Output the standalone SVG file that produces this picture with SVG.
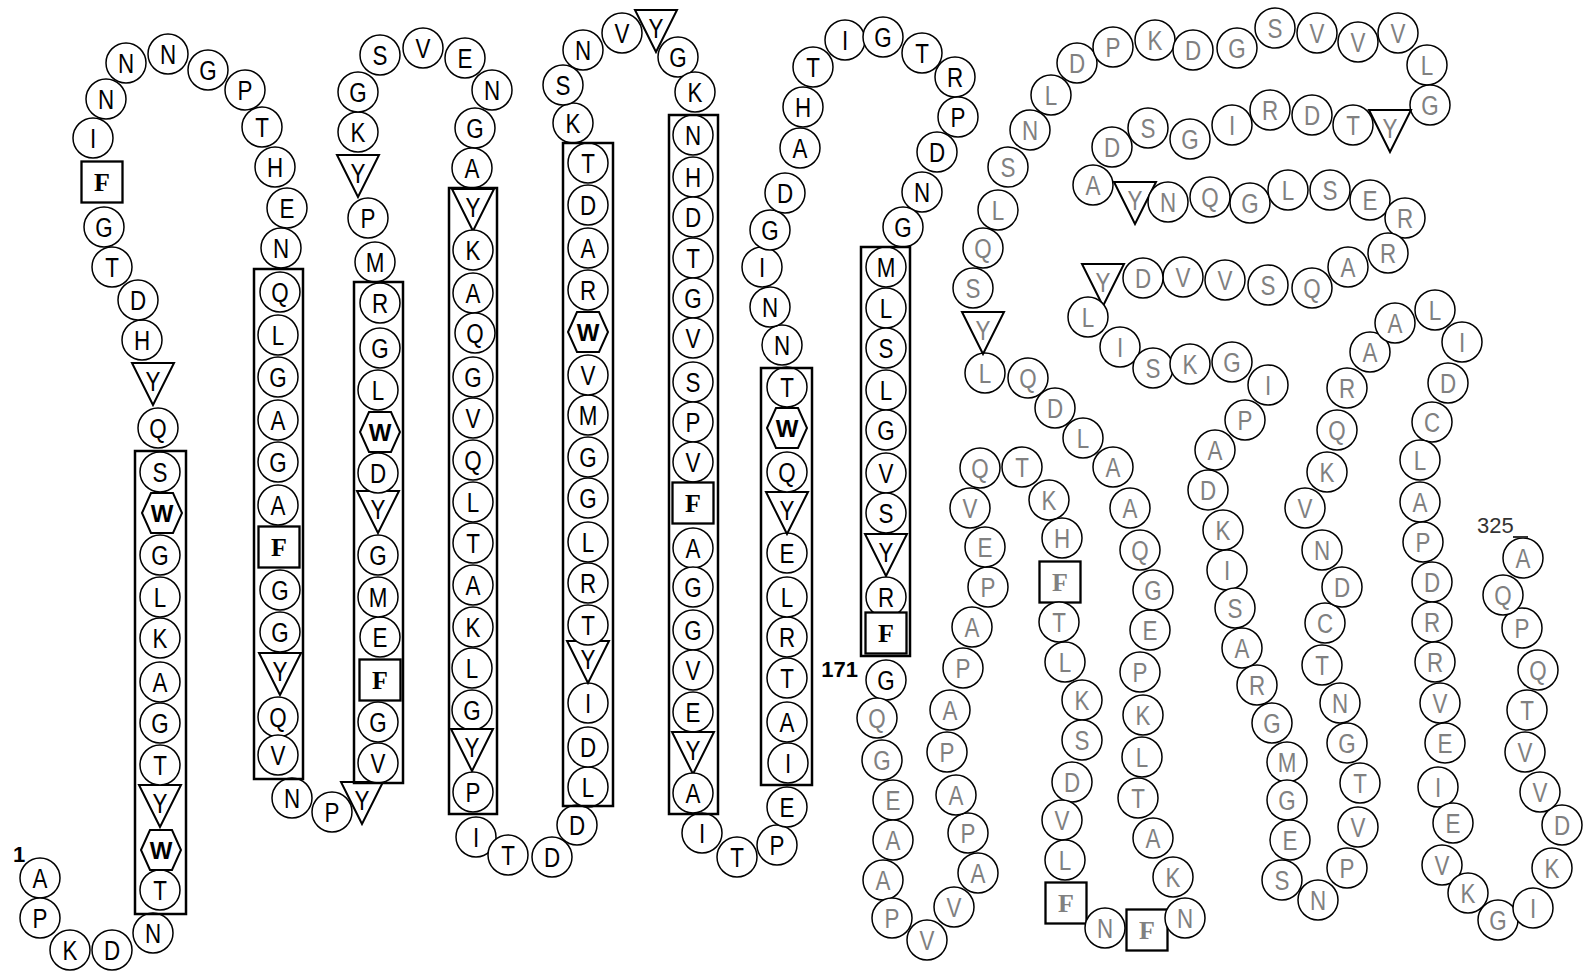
<svg xmlns="http://www.w3.org/2000/svg" xmlns:xlink="http://www.w3.org/1999/xlink" width="1585" height="972" viewBox="0 0 1585 972">
<defs>
<style>
text{font-family:"Liberation Sans",Arial,sans-serif;font-size:28px;text-anchor:middle;fill:#000}
.g text{fill:#808080}
text.f{font-family:"Liberation Serif","Times New Roman",serif;font-weight:bold;font-size:26px}
text.w{font-weight:bold;font-size:24px}
text.n{font-size:22px;font-weight:bold}
.tm{fill:none;stroke:#000;stroke-width:2.5}
</style>
<circle id="c" r="20" fill="#fff" stroke="#000" stroke-width="1.5"/>
<rect id="s" x="-20.5" y="-20.5" width="41" height="41" fill="#fff" stroke="#000" stroke-width="2.3"/>
<polygon id="h" points="-20,0 -11,-20 11,-20 20,0 11,20 -11,20" fill="#fff" stroke="#000" stroke-width="2"/>
<polygon id="t" points="-21,-21 21,-21 0,21" fill="#fff" stroke="#000" stroke-width="2"/>
</defs>
<rect width="1585" height="972" fill="#fff"/>
<g id="connectors"></g>
<g id="nodes">
<g id="r1" transform="translate(40,878)"><use href="#c"/><text y="10" transform="scale(.8 1)">A</text></g>
<g id="r2" transform="translate(40,918)"><use href="#c"/><text y="10" transform="scale(.8 1)">P</text></g>
<g id="r3" transform="translate(70,950)"><use href="#c"/><text y="10" transform="scale(.8 1)">K</text></g>
<g id="r4" transform="translate(112,950)"><use href="#c"/><text y="10" transform="scale(.8 1)">D</text></g>
<g id="r5" transform="translate(153,933)"><use href="#c"/><text y="10" transform="scale(.8 1)">N</text></g>
<g id="r6" transform="translate(160,890)"><use href="#c"/><text y="10" transform="scale(.8 1)">T</text></g>
<g id="r7" transform="translate(161,850)"><use href="#h"/><text class="w" y="9">W</text></g>
<g id="r8" transform="translate(160,806)"><use href="#t"/><text y="7" transform="scale(.8 1)">Y</text></g>
<g id="r9" transform="translate(160,765)"><use href="#c"/><text y="10" transform="scale(.8 1)">T</text></g>
<g id="r10" transform="translate(160,723)"><use href="#c"/><text y="10" transform="scale(.8 1)">G</text></g>
<g id="r11" transform="translate(160,682)"><use href="#c"/><text y="10" transform="scale(.8 1)">A</text></g>
<g id="r12" transform="translate(160,638)"><use href="#c"/><text y="10" transform="scale(.8 1)">K</text></g>
<g id="r13" transform="translate(160,597)"><use href="#c"/><text y="10" transform="scale(.8 1)">L</text></g>
<g id="r14" transform="translate(160,555)"><use href="#c"/><text y="10" transform="scale(.8 1)">G</text></g>
<g id="r15" transform="translate(162,513)"><use href="#h"/><text class="w" y="9">W</text></g>
<g id="r16" transform="translate(160,472)"><use href="#c"/><text y="10" transform="scale(.8 1)">S</text></g>
<g id="r17" transform="translate(158,428)"><use href="#c"/><text y="10" transform="scale(.8 1)">Q</text></g>
<g id="r18" transform="translate(153,384)"><use href="#t"/><text y="7" transform="scale(.8 1)">Y</text></g>
<g id="r19" transform="translate(142,340)"><use href="#c"/><text y="10" transform="scale(.8 1)">H</text></g>
<g id="r20" transform="translate(138,300)"><use href="#c"/><text y="10" transform="scale(.8 1)">D</text></g>
<g id="r21" transform="translate(112,267)"><use href="#c"/><text y="10" transform="scale(.8 1)">T</text></g>
<g id="r22" transform="translate(104,227)"><use href="#c"/><text y="10" transform="scale(.8 1)">G</text></g>
<g id="r23" transform="translate(102,182)"><use href="#s"/><text class="f" y="9">F</text></g>
<g id="r24" transform="translate(93,138)"><use href="#c"/><text y="10" transform="scale(.8 1)">I</text></g>
<g id="r25" transform="translate(106,99)"><use href="#c"/><text y="10" transform="scale(.8 1)">N</text></g>
<g id="r26" transform="translate(126,63)"><use href="#c"/><text y="10" transform="scale(.8 1)">N</text></g>
<g id="r27" transform="translate(168,54)"><use href="#c"/><text y="10" transform="scale(.8 1)">N</text></g>
<g id="r28" transform="translate(208,70)"><use href="#c"/><text y="10" transform="scale(.8 1)">G</text></g>
<g id="r29" transform="translate(245,90)"><use href="#c"/><text y="10" transform="scale(.8 1)">P</text></g>
<g id="r30" transform="translate(262,127)"><use href="#c"/><text y="10" transform="scale(.8 1)">T</text></g>
<g id="r31" transform="translate(275,167)"><use href="#c"/><text y="10" transform="scale(.8 1)">H</text></g>
<g id="r32" transform="translate(287,208)"><use href="#c"/><text y="10" transform="scale(.8 1)">E</text></g>
<g id="r33" transform="translate(281,248)"><use href="#c"/><text y="10" transform="scale(.8 1)">N</text></g>
<g id="r34" transform="translate(280,292)"><use href="#c"/><text y="10" transform="scale(.8 1)">Q</text></g>
<g id="r35" transform="translate(278,335)"><use href="#c"/><text y="10" transform="scale(.8 1)">L</text></g>
<g id="r36" transform="translate(278,377)"><use href="#c"/><text y="10" transform="scale(.8 1)">G</text></g>
<g id="r37" transform="translate(278,420)"><use href="#c"/><text y="10" transform="scale(.8 1)">A</text></g>
<g id="r38" transform="translate(278,462)"><use href="#c"/><text y="10" transform="scale(.8 1)">G</text></g>
<g id="r39" transform="translate(278,505)"><use href="#c"/><text y="10" transform="scale(.8 1)">A</text></g>
<g id="r40" transform="translate(279,547)"><use href="#s"/><text class="f" y="9">F</text></g>
<g id="r41" transform="translate(280,590)"><use href="#c"/><text y="10" transform="scale(.8 1)">G</text></g>
<g id="r42" transform="translate(280,632)"><use href="#c"/><text y="10" transform="scale(.8 1)">G</text></g>
<g id="r43" transform="translate(280,674)"><use href="#t"/><text y="7" transform="scale(.8 1)">Y</text></g>
<g id="r44" transform="translate(278,717)"><use href="#c"/><text y="10" transform="scale(.8 1)">Q</text></g>
<g id="r45" transform="translate(278,755)"><use href="#c"/><text y="10" transform="scale(.8 1)">V</text></g>
<g id="r46" transform="translate(292,798)"><use href="#c"/><text y="10" transform="scale(.8 1)">N</text></g>
<g id="r47" transform="translate(332,812)"><use href="#c"/><text y="10" transform="scale(.8 1)">P</text></g>
<g id="r48" transform="translate(362,803)"><use href="#t"/><text y="7" transform="scale(.8 1)">Y</text></g>
<g id="r49" transform="translate(378,763)"><use href="#c"/><text y="10" transform="scale(.8 1)">V</text></g>
<g id="r50" transform="translate(378,722)"><use href="#c"/><text y="10" transform="scale(.8 1)">G</text></g>
<g id="r51" transform="translate(380,680)"><use href="#s"/><text class="f" y="9">F</text></g>
<g id="r52" transform="translate(380,637)"><use href="#c"/><text y="10" transform="scale(.8 1)">E</text></g>
<g id="r53" transform="translate(378,597)"><use href="#c"/><text y="10" transform="scale(.8 1)">M</text></g>
<g id="r54" transform="translate(378,555)"><use href="#c"/><text y="10" transform="scale(.8 1)">G</text></g>
<g id="r55" transform="translate(378,512)"><use href="#t"/><text y="7" transform="scale(.8 1)">Y</text></g>
<g id="r56" transform="translate(378,473)"><use href="#c"/><text y="10" transform="scale(.8 1)">D</text></g>
<g id="r57" transform="translate(380,432)"><use href="#h"/><text class="w" y="9">W</text></g>
<g id="r58" transform="translate(378,390)"><use href="#c"/><text y="10" transform="scale(.8 1)">L</text></g>
<g id="r59" transform="translate(380,348)"><use href="#c"/><text y="10" transform="scale(.8 1)">G</text></g>
<g id="r60" transform="translate(380,303)"><use href="#c"/><text y="10" transform="scale(.8 1)">R</text></g>
<g id="r61" transform="translate(375,262)"><use href="#c"/><text y="10" transform="scale(.8 1)">M</text></g>
<g id="r62" transform="translate(368,218)"><use href="#c"/><text y="10" transform="scale(.8 1)">P</text></g>
<g id="r63" transform="translate(358,176)"><use href="#t"/><text y="7" transform="scale(.8 1)">Y</text></g>
<g id="r64" transform="translate(358,132)"><use href="#c"/><text y="10" transform="scale(.8 1)">K</text></g>
<g id="r65" transform="translate(358,92)"><use href="#c"/><text y="10" transform="scale(.8 1)">G</text></g>
<g id="r66" transform="translate(380,55)"><use href="#c"/><text y="10" transform="scale(.8 1)">S</text></g>
<g id="r67" transform="translate(423,48)"><use href="#c"/><text y="10" transform="scale(.8 1)">V</text></g>
<g id="r68" transform="translate(465,58)"><use href="#c"/><text y="10" transform="scale(.8 1)">E</text></g>
<g id="r69" transform="translate(492,90)"><use href="#c"/><text y="10" transform="scale(.8 1)">N</text></g>
<g id="r70" transform="translate(475,128)"><use href="#c"/><text y="10" transform="scale(.8 1)">G</text></g>
<g id="r71" transform="translate(472,168)"><use href="#c"/><text y="10" transform="scale(.8 1)">A</text></g>
<g id="r72" transform="translate(473,210)"><use href="#t"/><text y="7" transform="scale(.8 1)">Y</text></g>
<g id="r73" transform="translate(473,250)"><use href="#c"/><text y="10" transform="scale(.8 1)">K</text></g>
<g id="r74" transform="translate(473,293)"><use href="#c"/><text y="10" transform="scale(.8 1)">A</text></g>
<g id="r75" transform="translate(475,333)"><use href="#c"/><text y="10" transform="scale(.8 1)">Q</text></g>
<g id="r76" transform="translate(473,377)"><use href="#c"/><text y="10" transform="scale(.8 1)">G</text></g>
<g id="r77" transform="translate(473,418)"><use href="#c"/><text y="10" transform="scale(.8 1)">V</text></g>
<g id="r78" transform="translate(473,460)"><use href="#c"/><text y="10" transform="scale(.8 1)">Q</text></g>
<g id="r79" transform="translate(473,502)"><use href="#c"/><text y="10" transform="scale(.8 1)">L</text></g>
<g id="r80" transform="translate(473,543)"><use href="#c"/><text y="10" transform="scale(.8 1)">T</text></g>
<g id="r81" transform="translate(473,585)"><use href="#c"/><text y="10" transform="scale(.8 1)">A</text></g>
<g id="r82" transform="translate(473,627)"><use href="#c"/><text y="10" transform="scale(.8 1)">K</text></g>
<g id="r83" transform="translate(472,668)"><use href="#c"/><text y="10" transform="scale(.8 1)">L</text></g>
<g id="r84" transform="translate(472,710)"><use href="#c"/><text y="10" transform="scale(.8 1)">G</text></g>
<g id="r85" transform="translate(472,750)"><use href="#t"/><text y="7" transform="scale(.8 1)">Y</text></g>
<g id="r86" transform="translate(473,792)"><use href="#c"/><text y="10" transform="scale(.8 1)">P</text></g>
<g id="r87" transform="translate(476,837)"><use href="#c"/><text y="10" transform="scale(.8 1)">I</text></g>
<g id="r88" transform="translate(508,855)"><use href="#c"/><text y="10" transform="scale(.8 1)">T</text></g>
<g id="r89" transform="translate(552,857)"><use href="#c"/><text y="10" transform="scale(.8 1)">D</text></g>
<g id="r90" transform="translate(577,825)"><use href="#c"/><text y="10" transform="scale(.8 1)">D</text></g>
<g id="r91" transform="translate(588,787)"><use href="#c"/><text y="10" transform="scale(.8 1)">L</text></g>
<g id="r92" transform="translate(588,747)"><use href="#c"/><text y="10" transform="scale(.8 1)">D</text></g>
<g id="r93" transform="translate(588,703)"><use href="#c"/><text y="10" transform="scale(.8 1)">I</text></g>
<g id="r94" transform="translate(588,662)"><use href="#t"/><text y="7" transform="scale(.8 1)">Y</text></g>
<g id="r95" transform="translate(588,625)"><use href="#c"/><text y="10" transform="scale(.8 1)">T</text></g>
<g id="r96" transform="translate(588,583)"><use href="#c"/><text y="10" transform="scale(.8 1)">R</text></g>
<g id="r97" transform="translate(588,542)"><use href="#c"/><text y="10" transform="scale(.8 1)">L</text></g>
<g id="r98" transform="translate(588,498)"><use href="#c"/><text y="10" transform="scale(.8 1)">G</text></g>
<g id="r99" transform="translate(588,457)"><use href="#c"/><text y="10" transform="scale(.8 1)">G</text></g>
<g id="r100" transform="translate(588,415)"><use href="#c"/><text y="10" transform="scale(.8 1)">M</text></g>
<g id="r101" transform="translate(588,375)"><use href="#c"/><text y="10" transform="scale(.8 1)">V</text></g>
<g id="r102" transform="translate(588,332)"><use href="#h"/><text class="w" y="9">W</text></g>
<g id="r103" transform="translate(588,290)"><use href="#c"/><text y="10" transform="scale(.8 1)">R</text></g>
<g id="r104" transform="translate(588,248)"><use href="#c"/><text y="10" transform="scale(.8 1)">A</text></g>
<g id="r105" transform="translate(588,205)"><use href="#c"/><text y="10" transform="scale(.8 1)">D</text></g>
<g id="r106" transform="translate(588,163)"><use href="#c"/><text y="10" transform="scale(.8 1)">T</text></g>
<g id="r107" transform="translate(573,123)"><use href="#c"/><text y="10" transform="scale(.8 1)">K</text></g>
<g id="r108" transform="translate(563,85)"><use href="#c"/><text y="10" transform="scale(.8 1)">S</text></g>
<g id="r109" transform="translate(583,50)"><use href="#c"/><text y="10" transform="scale(.8 1)">N</text></g>
<g id="r110" transform="translate(622,33)"><use href="#c"/><text y="10" transform="scale(.8 1)">V</text></g>
<g id="r111" transform="translate(656,31)"><use href="#t"/><text y="7" transform="scale(.8 1)">Y</text></g>
<g id="r112" transform="translate(678,57)"><use href="#c"/><text y="10" transform="scale(.8 1)">G</text></g>
<g id="r113" transform="translate(695,92)"><use href="#c"/><text y="10" transform="scale(.8 1)">K</text></g>
<g id="r114" transform="translate(693,135)"><use href="#c"/><text y="10" transform="scale(.8 1)">N</text></g>
<g id="r115" transform="translate(693,177)"><use href="#c"/><text y="10" transform="scale(.8 1)">H</text></g>
<g id="r116" transform="translate(693,217)"><use href="#c"/><text y="10" transform="scale(.8 1)">D</text></g>
<g id="r117" transform="translate(693,258)"><use href="#c"/><text y="10" transform="scale(.8 1)">T</text></g>
<g id="r118" transform="translate(693,298)"><use href="#c"/><text y="10" transform="scale(.8 1)">G</text></g>
<g id="r119" transform="translate(693,338)"><use href="#c"/><text y="10" transform="scale(.8 1)">V</text></g>
<g id="r120" transform="translate(693,382)"><use href="#c"/><text y="10" transform="scale(.8 1)">S</text></g>
<g id="r121" transform="translate(693,422)"><use href="#c"/><text y="10" transform="scale(.8 1)">P</text></g>
<g id="r122" transform="translate(693,462)"><use href="#c"/><text y="10" transform="scale(.8 1)">V</text></g>
<g id="r123" transform="translate(693,503)"><use href="#s"/><text class="f" y="9">F</text></g>
<g id="r124" transform="translate(693,548)"><use href="#c"/><text y="10" transform="scale(.8 1)">A</text></g>
<g id="r125" transform="translate(693,587)"><use href="#c"/><text y="10" transform="scale(.8 1)">G</text></g>
<g id="r126" transform="translate(693,630)"><use href="#c"/><text y="10" transform="scale(.8 1)">G</text></g>
<g id="r127" transform="translate(693,670)"><use href="#c"/><text y="10" transform="scale(.8 1)">V</text></g>
<g id="r128" transform="translate(693,712)"><use href="#c"/><text y="10" transform="scale(.8 1)">E</text></g>
<g id="r129" transform="translate(693,753)"><use href="#t"/><text y="7" transform="scale(.8 1)">Y</text></g>
<g id="r130" transform="translate(693,793)"><use href="#c"/><text y="10" transform="scale(.8 1)">A</text></g>
<g id="r131" transform="translate(702,833)"><use href="#c"/><text y="10" transform="scale(.8 1)">I</text></g>
<g id="r132" transform="translate(737,857)"><use href="#c"/><text y="10" transform="scale(.8 1)">T</text></g>
<g id="r133" transform="translate(777,845)"><use href="#c"/><text y="10" transform="scale(.8 1)">P</text></g>
<g id="r134" transform="translate(787,807)"><use href="#c"/><text y="10" transform="scale(.8 1)">E</text></g>
<g id="r135" transform="translate(788,763)"><use href="#c"/><text y="10" transform="scale(.8 1)">I</text></g>
<g id="r136" transform="translate(787,722)"><use href="#c"/><text y="10" transform="scale(.8 1)">A</text></g>
<g id="r137" transform="translate(787,678)"><use href="#c"/><text y="10" transform="scale(.8 1)">T</text></g>
<g id="r138" transform="translate(787,637)"><use href="#c"/><text y="10" transform="scale(.8 1)">R</text></g>
<g id="r139" transform="translate(787,597)"><use href="#c"/><text y="10" transform="scale(.8 1)">L</text></g>
<g id="r140" transform="translate(787,553)"><use href="#c"/><text y="10" transform="scale(.8 1)">E</text></g>
<g id="r141" transform="translate(787,513)"><use href="#t"/><text y="7" transform="scale(.8 1)">Y</text></g>
<g id="r142" transform="translate(787,472)"><use href="#c"/><text y="10" transform="scale(.8 1)">Q</text></g>
<g id="r143" transform="translate(787,428)"><use href="#h"/><text class="w" y="9">W</text></g>
<g id="r144" transform="translate(787,387)"><use href="#c"/><text y="10" transform="scale(.8 1)">T</text></g>
<g id="r145" transform="translate(782,345)"><use href="#c"/><text y="10" transform="scale(.8 1)">N</text></g>
<g id="r146" transform="translate(770,307)"><use href="#c"/><text y="10" transform="scale(.8 1)">N</text></g>
<g id="r147" transform="translate(762,267)"><use href="#c"/><text y="10" transform="scale(.8 1)">I</text></g>
<g id="r148" transform="translate(770,230)"><use href="#c"/><text y="10" transform="scale(.8 1)">G</text></g>
<g id="r149" transform="translate(785,193)"><use href="#c"/><text y="10" transform="scale(.8 1)">D</text></g>
<g id="r150" transform="translate(800,148)"><use href="#c"/><text y="10" transform="scale(.8 1)">A</text></g>
<g id="r151" transform="translate(803,107)"><use href="#c"/><text y="10" transform="scale(.8 1)">H</text></g>
<g id="r152" transform="translate(813,67)"><use href="#c"/><text y="10" transform="scale(.8 1)">T</text></g>
<g id="r153" transform="translate(845,40)"><use href="#c"/><text y="10" transform="scale(.8 1)">I</text></g>
<g id="r154" transform="translate(883,37)"><use href="#c"/><text y="10" transform="scale(.8 1)">G</text></g>
<g id="r155" transform="translate(922,53)"><use href="#c"/><text y="10" transform="scale(.8 1)">T</text></g>
<g id="r156" transform="translate(955,77)"><use href="#c"/><text y="10" transform="scale(.8 1)">R</text></g>
<g id="r157" transform="translate(958,117)"><use href="#c"/><text y="10" transform="scale(.8 1)">P</text></g>
<g id="r158" transform="translate(937,152)"><use href="#c"/><text y="10" transform="scale(.8 1)">D</text></g>
<g id="r159" transform="translate(922,192)"><use href="#c"/><text y="10" transform="scale(.8 1)">N</text></g>
<g id="r160" transform="translate(903,227)"><use href="#c"/><text y="10" transform="scale(.8 1)">G</text></g>
<g id="r161" transform="translate(886,267)"><use href="#c"/><text y="10" transform="scale(.8 1)">M</text></g>
<g id="r162" transform="translate(886,308)"><use href="#c"/><text y="10" transform="scale(.8 1)">L</text></g>
<g id="r163" transform="translate(886,348)"><use href="#c"/><text y="10" transform="scale(.8 1)">S</text></g>
<g id="r164" transform="translate(886,390)"><use href="#c"/><text y="10" transform="scale(.8 1)">L</text></g>
<g id="r165" transform="translate(886,430)"><use href="#c"/><text y="10" transform="scale(.8 1)">G</text></g>
<g id="r166" transform="translate(886,473)"><use href="#c"/><text y="10" transform="scale(.8 1)">V</text></g>
<g id="r167" transform="translate(886,513)"><use href="#c"/><text y="10" transform="scale(.8 1)">S</text></g>
<g id="r168" transform="translate(886,555)"><use href="#t"/><text y="7" transform="scale(.8 1)">Y</text></g>
<g id="r169" transform="translate(886,597)"><use href="#c"/><text y="10" transform="scale(.8 1)">R</text></g>
<g id="r170" transform="translate(886,633)"><use href="#s"/><text class="f" y="9">F</text></g>
<g id="r171" transform="translate(886,680)"><use href="#c"/><text y="10" transform="scale(.8 1)">G</text></g>
<g class="g">
<g id="r172" transform="translate(877,718)"><use href="#c"/><text y="10" transform="scale(.8 1)">Q</text></g>
<g id="r173" transform="translate(882,760)"><use href="#c"/><text y="10" transform="scale(.8 1)">G</text></g>
<g id="r174" transform="translate(893,800)"><use href="#c"/><text y="10" transform="scale(.8 1)">E</text></g>
<g id="r175" transform="translate(893,840)"><use href="#c"/><text y="10" transform="scale(.8 1)">A</text></g>
<g id="r176" transform="translate(883,880)"><use href="#c"/><text y="10" transform="scale(.8 1)">A</text></g>
<g id="r177" transform="translate(892,918)"><use href="#c"/><text y="10" transform="scale(.8 1)">P</text></g>
<g id="r178" transform="translate(927,940)"><use href="#c"/><text y="10" transform="scale(.8 1)">V</text></g>
<g id="r179" transform="translate(954,907)"><use href="#c"/><text y="10" transform="scale(.8 1)">V</text></g>
<g id="r180" transform="translate(978,873)"><use href="#c"/><text y="10" transform="scale(.8 1)">A</text></g>
<g id="r181" transform="translate(968,833)"><use href="#c"/><text y="10" transform="scale(.8 1)">P</text></g>
<g id="r182" transform="translate(956,795)"><use href="#c"/><text y="10" transform="scale(.8 1)">A</text></g>
<g id="r183" transform="translate(947,752)"><use href="#c"/><text y="10" transform="scale(.8 1)">P</text></g>
<g id="r184" transform="translate(950,710)"><use href="#c"/><text y="10" transform="scale(.8 1)">A</text></g>
<g id="r185" transform="translate(963,668)"><use href="#c"/><text y="10" transform="scale(.8 1)">P</text></g>
<g id="r186" transform="translate(972,627)"><use href="#c"/><text y="10" transform="scale(.8 1)">A</text></g>
<g id="r187" transform="translate(988,587)"><use href="#c"/><text y="10" transform="scale(.8 1)">P</text></g>
<g id="r188" transform="translate(985,547)"><use href="#c"/><text y="10" transform="scale(.8 1)">E</text></g>
<g id="r189" transform="translate(970,508)"><use href="#c"/><text y="10" transform="scale(.8 1)">V</text></g>
<g id="r190" transform="translate(980,468)"><use href="#c"/><text y="10" transform="scale(.8 1)">Q</text></g>
<g id="r191" transform="translate(1022,467)"><use href="#c"/><text y="10" transform="scale(.8 1)">T</text></g>
<g id="r192" transform="translate(1049,500)"><use href="#c"/><text y="10" transform="scale(.8 1)">K</text></g>
<g id="r193" transform="translate(1062,538)"><use href="#c"/><text y="10" transform="scale(.8 1)">H</text></g>
<g id="r194" transform="translate(1060,582)"><use href="#s"/><text class="f" y="9">F</text></g>
<g id="r195" transform="translate(1059,622)"><use href="#c"/><text y="10" transform="scale(.8 1)">T</text></g>
<g id="r196" transform="translate(1065,662)"><use href="#c"/><text y="10" transform="scale(.8 1)">L</text></g>
<g id="r197" transform="translate(1082,700)"><use href="#c"/><text y="10" transform="scale(.8 1)">K</text></g>
<g id="r198" transform="translate(1082,740)"><use href="#c"/><text y="10" transform="scale(.8 1)">S</text></g>
<g id="r199" transform="translate(1072,782)"><use href="#c"/><text y="10" transform="scale(.8 1)">D</text></g>
<g id="r200" transform="translate(1062,820)"><use href="#c"/><text y="10" transform="scale(.8 1)">V</text></g>
<g id="r201" transform="translate(1065,860)"><use href="#c"/><text y="10" transform="scale(.8 1)">L</text></g>
<g id="r202" transform="translate(1066,903)"><use href="#s"/><text class="f" y="9">F</text></g>
<g id="r203" transform="translate(1105,928)"><use href="#c"/><text y="10" transform="scale(.8 1)">N</text></g>
<g id="r204" transform="translate(1147,930)"><use href="#s"/><text class="f" y="9">F</text></g>
<g id="r205" transform="translate(1185,918)"><use href="#c"/><text y="10" transform="scale(.8 1)">N</text></g>
<g id="r206" transform="translate(1173,877)"><use href="#c"/><text y="10" transform="scale(.8 1)">K</text></g>
<g id="r207" transform="translate(1153,838)"><use href="#c"/><text y="10" transform="scale(.8 1)">A</text></g>
<g id="r208" transform="translate(1138,798)"><use href="#c"/><text y="10" transform="scale(.8 1)">T</text></g>
<g id="r209" transform="translate(1142,757)"><use href="#c"/><text y="10" transform="scale(.8 1)">L</text></g>
<g id="r210" transform="translate(1143,715)"><use href="#c"/><text y="10" transform="scale(.8 1)">K</text></g>
<g id="r211" transform="translate(1140,672)"><use href="#c"/><text y="10" transform="scale(.8 1)">P</text></g>
<g id="r212" transform="translate(1150,630)"><use href="#c"/><text y="10" transform="scale(.8 1)">E</text></g>
<g id="r213" transform="translate(1153,590)"><use href="#c"/><text y="10" transform="scale(.8 1)">G</text></g>
<g id="r214" transform="translate(1140,550)"><use href="#c"/><text y="10" transform="scale(.8 1)">Q</text></g>
<g id="r215" transform="translate(1130,508)"><use href="#c"/><text y="10" transform="scale(.8 1)">A</text></g>
<g id="r216" transform="translate(1113,467)"><use href="#c"/><text y="10" transform="scale(.8 1)">A</text></g>
<g id="r217" transform="translate(1083,438)"><use href="#c"/><text y="10" transform="scale(.8 1)">L</text></g>
<g id="r218" transform="translate(1055,408)"><use href="#c"/><text y="10" transform="scale(.8 1)">D</text></g>
<g id="r219" transform="translate(1028,378)"><use href="#c"/><text y="10" transform="scale(.8 1)">Q</text></g>
<g id="r220" transform="translate(985,373)"><use href="#c"/><text y="10" transform="scale(.8 1)">L</text></g>
<g id="r221" transform="translate(983,333)"><use href="#t"/><text y="7" transform="scale(.8 1)">Y</text></g>
<g id="r222" transform="translate(973,288)"><use href="#c"/><text y="10" transform="scale(.8 1)">S</text></g>
<g id="r223" transform="translate(983,248)"><use href="#c"/><text y="10" transform="scale(.8 1)">Q</text></g>
<g id="r224" transform="translate(998,210)"><use href="#c"/><text y="10" transform="scale(.8 1)">L</text></g>
<g id="r225" transform="translate(1008,167)"><use href="#c"/><text y="10" transform="scale(.8 1)">S</text></g>
<g id="r226" transform="translate(1030,130)"><use href="#c"/><text y="10" transform="scale(.8 1)">N</text></g>
<g id="r227" transform="translate(1051,95)"><use href="#c"/><text y="10" transform="scale(.8 1)">L</text></g>
<g id="r228" transform="translate(1077,63)"><use href="#c"/><text y="10" transform="scale(.8 1)">D</text></g>
<g id="r229" transform="translate(1113,47)"><use href="#c"/><text y="10" transform="scale(.8 1)">P</text></g>
<g id="r230" transform="translate(1155,40)"><use href="#c"/><text y="10" transform="scale(.8 1)">K</text></g>
<g id="r231" transform="translate(1193,50)"><use href="#c"/><text y="10" transform="scale(.8 1)">D</text></g>
<g id="r232" transform="translate(1237,48)"><use href="#c"/><text y="10" transform="scale(.8 1)">G</text></g>
<g id="r233" transform="translate(1275,28)"><use href="#c"/><text y="10" transform="scale(.8 1)">S</text></g>
<g id="r234" transform="translate(1317,33)"><use href="#c"/><text y="10" transform="scale(.8 1)">V</text></g>
<g id="r235" transform="translate(1358,42)"><use href="#c"/><text y="10" transform="scale(.8 1)">V</text></g>
<g id="r236" transform="translate(1398,33)"><use href="#c"/><text y="10" transform="scale(.8 1)">V</text></g>
<g id="r237" transform="translate(1427,65)"><use href="#c"/><text y="10" transform="scale(.8 1)">L</text></g>
<g id="r238" transform="translate(1430,105)"><use href="#c"/><text y="10" transform="scale(.8 1)">G</text></g>
<g id="r239" transform="translate(1390,131)"><use href="#t"/><text y="7" transform="scale(.8 1)">Y</text></g>
<g id="r240" transform="translate(1353,125)"><use href="#c"/><text y="10" transform="scale(.8 1)">T</text></g>
<g id="r241" transform="translate(1312,115)"><use href="#c"/><text y="10" transform="scale(.8 1)">D</text></g>
<g id="r242" transform="translate(1270,110)"><use href="#c"/><text y="10" transform="scale(.8 1)">R</text></g>
<g id="r243" transform="translate(1232,125)"><use href="#c"/><text y="10" transform="scale(.8 1)">I</text></g>
<g id="r244" transform="translate(1190,139)"><use href="#c"/><text y="10" transform="scale(.8 1)">G</text></g>
<g id="r245" transform="translate(1148,128)"><use href="#c"/><text y="10" transform="scale(.8 1)">S</text></g>
<g id="r246" transform="translate(1112,147)"><use href="#c"/><text y="10" transform="scale(.8 1)">D</text></g>
<g id="r247" transform="translate(1093,185)"><use href="#c"/><text y="10" transform="scale(.8 1)">A</text></g>
<g id="r248" transform="translate(1135,203)"><use href="#t"/><text y="7" transform="scale(.8 1)">Y</text></g>
<g id="r249" transform="translate(1168,202)"><use href="#c"/><text y="10" transform="scale(.8 1)">N</text></g>
<g id="r250" transform="translate(1210,197)"><use href="#c"/><text y="10" transform="scale(.8 1)">Q</text></g>
<g id="r251" transform="translate(1250,203)"><use href="#c"/><text y="10" transform="scale(.8 1)">G</text></g>
<g id="r252" transform="translate(1288,190)"><use href="#c"/><text y="10" transform="scale(.8 1)">L</text></g>
<g id="r253" transform="translate(1330,190)"><use href="#c"/><text y="10" transform="scale(.8 1)">S</text></g>
<g id="r254" transform="translate(1370,200)"><use href="#c"/><text y="10" transform="scale(.8 1)">E</text></g>
<g id="r255" transform="translate(1405,218)"><use href="#c"/><text y="10" transform="scale(.8 1)">R</text></g>
<g id="r256" transform="translate(1388,253)"><use href="#c"/><text y="10" transform="scale(.8 1)">R</text></g>
<g id="r257" transform="translate(1348,267)"><use href="#c"/><text y="10" transform="scale(.8 1)">A</text></g>
<g id="r258" transform="translate(1312,288)"><use href="#c"/><text y="10" transform="scale(.8 1)">Q</text></g>
<g id="r259" transform="translate(1268,285)"><use href="#c"/><text y="10" transform="scale(.8 1)">S</text></g>
<g id="r260" transform="translate(1225,280)"><use href="#c"/><text y="10" transform="scale(.8 1)">V</text></g>
<g id="r261" transform="translate(1183,277)"><use href="#c"/><text y="10" transform="scale(.8 1)">V</text></g>
<g id="r262" transform="translate(1143,278)"><use href="#c"/><text y="10" transform="scale(.8 1)">D</text></g>
<g id="r263" transform="translate(1103,285)"><use href="#t"/><text y="7" transform="scale(.8 1)">Y</text></g>
<g id="r264" transform="translate(1088,317)"><use href="#c"/><text y="10" transform="scale(.8 1)">L</text></g>
<g id="r265" transform="translate(1120,347)"><use href="#c"/><text y="10" transform="scale(.8 1)">I</text></g>
<g id="r266" transform="translate(1153,368)"><use href="#c"/><text y="10" transform="scale(.8 1)">S</text></g>
<g id="r267" transform="translate(1190,364)"><use href="#c"/><text y="10" transform="scale(.8 1)">K</text></g>
<g id="r268" transform="translate(1232,362)"><use href="#c"/><text y="10" transform="scale(.8 1)">G</text></g>
<g id="r269" transform="translate(1268,385)"><use href="#c"/><text y="10" transform="scale(.8 1)">I</text></g>
<g id="r270" transform="translate(1245,420)"><use href="#c"/><text y="10" transform="scale(.8 1)">P</text></g>
<g id="r271" transform="translate(1215,450)"><use href="#c"/><text y="10" transform="scale(.8 1)">A</text></g>
<g id="r272" transform="translate(1208,490)"><use href="#c"/><text y="10" transform="scale(.8 1)">D</text></g>
<g id="r273" transform="translate(1223,530)"><use href="#c"/><text y="10" transform="scale(.8 1)">K</text></g>
<g id="r274" transform="translate(1227,570)"><use href="#c"/><text y="10" transform="scale(.8 1)">I</text></g>
<g id="r275" transform="translate(1235,608)"><use href="#c"/><text y="10" transform="scale(.8 1)">S</text></g>
<g id="r276" transform="translate(1242,648)"><use href="#c"/><text y="10" transform="scale(.8 1)">A</text></g>
<g id="r277" transform="translate(1257,685)"><use href="#c"/><text y="10" transform="scale(.8 1)">R</text></g>
<g id="r278" transform="translate(1272,723)"><use href="#c"/><text y="10" transform="scale(.8 1)">G</text></g>
<g id="r279" transform="translate(1287,762)"><use href="#c"/><text y="10" transform="scale(.8 1)">M</text></g>
<g id="r280" transform="translate(1287,800)"><use href="#c"/><text y="10" transform="scale(.8 1)">G</text></g>
<g id="r281" transform="translate(1290,840)"><use href="#c"/><text y="10" transform="scale(.8 1)">E</text></g>
<g id="r282" transform="translate(1282,880)"><use href="#c"/><text y="10" transform="scale(.8 1)">S</text></g>
<g id="r283" transform="translate(1318,900)"><use href="#c"/><text y="10" transform="scale(.8 1)">N</text></g>
<g id="r284" transform="translate(1347,868)"><use href="#c"/><text y="10" transform="scale(.8 1)">P</text></g>
<g id="r285" transform="translate(1358,827)"><use href="#c"/><text y="10" transform="scale(.8 1)">V</text></g>
<g id="r286" transform="translate(1360,783)"><use href="#c"/><text y="10" transform="scale(.8 1)">T</text></g>
<g id="r287" transform="translate(1347,743)"><use href="#c"/><text y="10" transform="scale(.8 1)">G</text></g>
<g id="r288" transform="translate(1340,703)"><use href="#c"/><text y="10" transform="scale(.8 1)">N</text></g>
<g id="r289" transform="translate(1322,665)"><use href="#c"/><text y="10" transform="scale(.8 1)">T</text></g>
<g id="r290" transform="translate(1325,623)"><use href="#c"/><text y="10" transform="scale(.8 1)">C</text></g>
<g id="r291" transform="translate(1342,587)"><use href="#c"/><text y="10" transform="scale(.8 1)">D</text></g>
<g id="r292" transform="translate(1322,550)"><use href="#c"/><text y="10" transform="scale(.8 1)">N</text></g>
<g id="r293" transform="translate(1305,508)"><use href="#c"/><text y="10" transform="scale(.8 1)">V</text></g>
<g id="r294" transform="translate(1327,472)"><use href="#c"/><text y="10" transform="scale(.8 1)">K</text></g>
<g id="r295" transform="translate(1337,430)"><use href="#c"/><text y="10" transform="scale(.8 1)">Q</text></g>
<g id="r296" transform="translate(1347,388)"><use href="#c"/><text y="10" transform="scale(.8 1)">R</text></g>
<g id="r297" transform="translate(1370,352)"><use href="#c"/><text y="10" transform="scale(.8 1)">A</text></g>
<g id="r298" transform="translate(1395,323)"><use href="#c"/><text y="10" transform="scale(.8 1)">A</text></g>
<g id="r299" transform="translate(1435,310)"><use href="#c"/><text y="10" transform="scale(.8 1)">L</text></g>
<g id="r300" transform="translate(1462,342)"><use href="#c"/><text y="10" transform="scale(.8 1)">I</text></g>
<g id="r301" transform="translate(1448,383)"><use href="#c"/><text y="10" transform="scale(.8 1)">D</text></g>
<g id="r302" transform="translate(1432,422)"><use href="#c"/><text y="10" transform="scale(.8 1)">C</text></g>
<g id="r303" transform="translate(1420,460)"><use href="#c"/><text y="10" transform="scale(.8 1)">L</text></g>
<g id="r304" transform="translate(1420,502)"><use href="#c"/><text y="10" transform="scale(.8 1)">A</text></g>
<g id="r305" transform="translate(1423,542)"><use href="#c"/><text y="10" transform="scale(.8 1)">P</text></g>
<g id="r306" transform="translate(1432,582)"><use href="#c"/><text y="10" transform="scale(.8 1)">D</text></g>
<g id="r307" transform="translate(1432,622)"><use href="#c"/><text y="10" transform="scale(.8 1)">R</text></g>
<g id="r308" transform="translate(1435,662)"><use href="#c"/><text y="10" transform="scale(.8 1)">R</text></g>
<g id="r309" transform="translate(1440,703)"><use href="#c"/><text y="10" transform="scale(.8 1)">V</text></g>
<g id="r310" transform="translate(1445,743)"><use href="#c"/><text y="10" transform="scale(.8 1)">E</text></g>
<g id="r311" transform="translate(1438,787)"><use href="#c"/><text y="10" transform="scale(.8 1)">I</text></g>
<g id="r312" transform="translate(1453,823)"><use href="#c"/><text y="10" transform="scale(.8 1)">E</text></g>
<g id="r313" transform="translate(1442,865)"><use href="#c"/><text y="10" transform="scale(.8 1)">V</text></g>
<g id="r314" transform="translate(1468,893)"><use href="#c"/><text y="10" transform="scale(.8 1)">K</text></g>
<g id="r315" transform="translate(1498,920)"><use href="#c"/><text y="10" transform="scale(.8 1)">G</text></g>
<g id="r316" transform="translate(1533,908)"><use href="#c"/><text y="10" transform="scale(.8 1)">I</text></g>
<g id="r317" transform="translate(1552,868)"><use href="#c"/><text y="10" transform="scale(.8 1)">K</text></g>
<g id="r318" transform="translate(1562,825)"><use href="#c"/><text y="10" transform="scale(.8 1)">D</text></g>
<g id="r319" transform="translate(1540,792)"><use href="#c"/><text y="10" transform="scale(.8 1)">V</text></g>
<g id="r320" transform="translate(1525,752)"><use href="#c"/><text y="10" transform="scale(.8 1)">V</text></g>
<g id="r321" transform="translate(1527,710)"><use href="#c"/><text y="10" transform="scale(.8 1)">T</text></g>
<g id="r322" transform="translate(1538,670)"><use href="#c"/><text y="10" transform="scale(.8 1)">Q</text></g>
<g id="r323" transform="translate(1522,628)"><use href="#c"/><text y="10" transform="scale(.8 1)">P</text></g>
<g id="r324" transform="translate(1503,595)"><use href="#c"/><text y="10" transform="scale(.8 1)">Q</text></g>
<g id="r325" transform="translate(1523,558)"><use href="#c"/><text y="10" transform="scale(.8 1)">A</text></g>
</g>
</g>
<g id="helices">
<rect class="tm" x="135" y="451" width="51" height="463"/>
<rect class="tm" x="254" y="269" width="49" height="510"/>
<rect class="tm" x="354" y="282" width="49" height="501"/>
<rect class="tm" x="449" y="188" width="48" height="626"/>
<rect class="tm" x="563" y="143" width="50" height="663"/>
<rect class="tm" x="669" y="115" width="49" height="699"/>
<rect class="tm" x="761" y="368" width="51" height="417"/>
<rect class="tm" x="861" y="247" width="49" height="409"/>
</g>
<g id="labels">
<text class="n" x="19" y="862">1</text>
<text class="n" x="858" y="677" style="text-anchor:end">171</text>
<text x="1477" y="533" style="text-anchor:start;font-size:22px;fill:#333">325</text>
<line x1="1513" y1="537" x2="1528" y2="537" stroke="#333" stroke-width="2"/>
</g>
</svg>
